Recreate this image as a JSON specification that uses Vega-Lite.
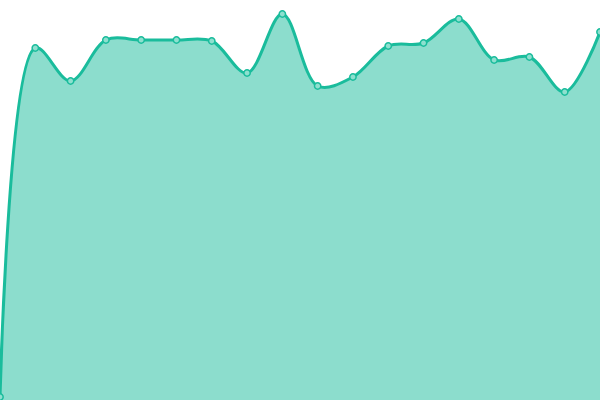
{
  "$schema": "https://vega.github.io/schema/vega-lite/v6.json",
  "width": 600,
  "height": 400,
  "autosize": {"type": "none"},
  "padding": 0,
  "background": "white",
  "config": {"view": {"stroke": null}},
  "data": {
    "values": [
      {"i": 0, "v": 3},
      {"i": 1, "v": 352},
      {"i": 2, "v": 319},
      {"i": 3, "v": 360},
      {"i": 4, "v": 360},
      {"i": 5, "v": 360},
      {"i": 6, "v": 359},
      {"i": 7, "v": 327},
      {"i": 8, "v": 386},
      {"i": 9, "v": 314},
      {"i": 10, "v": 323},
      {"i": 11, "v": 354},
      {"i": 12, "v": 357},
      {"i": 13, "v": 381},
      {"i": 14, "v": 340},
      {"i": 15, "v": 343},
      {"i": 16, "v": 308},
      {"i": 17, "v": 368}
    ]
  },
  "encoding": {
    "x": {"field": "i", "type": "quantitative", "axis": null,
          "scale": {"domain": [0, 17], "nice": false, "zero": false}},
    "y": {"field": "v", "type": "quantitative", "axis": null,
          "scale": {"domain": [0, 400], "nice": false}}
  },
  "layer": [
    {
      "mark": {"type": "area", "interpolate": "catmull-rom", "color": "#1abc9c", "opacity": 0.5}
    },
    {
      "mark": {"type": "line", "interpolate": "catmull-rom", "color": "#1abc9c", "strokeWidth": 3}
    },
    {
      "mark": {"type": "point", "filled": true, "size": 40, "fill": "#8ee0cf", "stroke": "#1abc9c", "strokeWidth": 1.5, "opacity": 1}
    }
  ]
}
